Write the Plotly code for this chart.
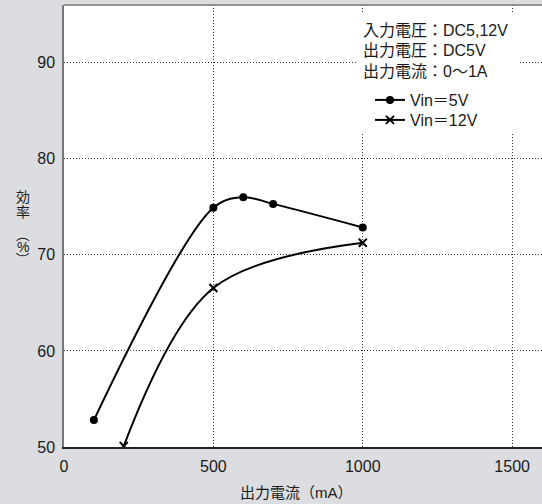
import plotly.graph_objects as go

# Data
current_5v = [100, 500, 600, 700, 1000]
eff_5v = [52.8, 74.9, 76.0, 75.3, 72.85]
current_12v = [200, 500, 1000]
eff_12v = [50.1, 66.55, 71.25]
x_ticks = [0, 500, 1000, 1500]
y_ticks = [50, 60, 70, 80, 90]
name_5v = "Vin＝5V"
name_12v = "Vin＝12V"
info_lines = ["入力電圧：DC5,12V", "出力電圧：DC5V", "出力電流：0〜1A"]

W, H = 542, 504
L, R, T, B = 64, 0, 5, 57
PW = W - L - R
PH = H - T - B


def px(x):
    return (x - L) / PW


def py(y):
    return (H - B - y) / PH


FONT = "Liberation Sans, Noto Sans CJK JP, sans-serif"

fig = go.Figure()
fig.add_trace(go.Scatter(
    x=current_5v, y=eff_5v, name=name_5v, mode="lines+markers", legend="legend",
    line=dict(color="black", width=2, shape="spline", smoothing=1.0),
    marker=dict(symbol="circle", size=8, color="black"),
))
fig.add_trace(go.Scatter(
    x=current_12v, y=eff_12v, name=name_12v, mode="lines+markers", legend="legend2",
    line=dict(color="black", width=2, shape="spline", smoothing=1.0),
    marker=dict(symbol="x-thin", size=8, color="black",
                line=dict(color="black", width=2)),
))

grid = dict(showgrid=True, gridcolor="#333333", gridwidth=1, griddash="1px,2px",
            zeroline=False)

leg_common = dict(xanchor="left", yanchor="top", bgcolor="rgba(0,0,0,0)",
                  font=dict(size=16, color="#1a1a1a"))

fig.update_layout(
    width=W, height=H,
    margin=dict(l=L, r=R, t=T, b=B),
    paper_bgcolor="#dcdde0",
    plot_bgcolor="white",
    font=dict(family=FONT, size=16, color="#1a1a1a"),
    xaxis=dict(range=[0, 1600], tickvals=x_ticks, ticktext=[str(v) for v in x_ticks],
               showline=True, linecolor="#222222", linewidth=1.5,
               ticks="outside", ticklen=4, tickcolor="rgba(0,0,0,0)",
               tickfont=dict(size=16), **grid),
    yaxis=dict(range=[50, 96], tickvals=y_ticks, ticktext=[str(v) for v in y_ticks],
               showline=True, linecolor="#777777", linewidth=1.5,
               ticks="outside", ticklen=4, tickcolor="rgba(0,0,0,0)",
               tickfont=dict(size=16), **grid),
    showlegend=True,
    legend=dict(x=px(370), y=py(83), **leg_common),
    legend2=dict(x=px(370), y=py(103), **leg_common),
)

# white box behind the note and legend; top frame line
fig.add_shape(type="rect", xref="paper", yref="paper",
              x0=px(357), x1=px(520), y0=py(133), y1=py(12),
              fillcolor="white", line=dict(width=0), layer="above")
fig.add_shape(type="line", xref="paper", yref="paper",
              x0=0, x1=1, y0=1, y1=1, line=dict(color="#777777", width=1.5))

for txt, yc in zip(info_lines, [30.5, 51, 71.5]):
    fig.add_annotation(text=txt, xref="paper", yref="paper", x=px(361), y=py(yc),
                       xanchor="left", yanchor="middle", showarrow=False,
                       font=dict(size=16, color="#1a1a1a"))

# x axis title
fig.add_annotation(text="出力電流（mA）", xref="paper", yref="paper", x=px(296), y=py(492),
                   xanchor="center", yanchor="middle", showarrow=False,
                   font=dict(size=15, color="#1a1a1a"))

# y axis title (vertical writing)
ychars = [("効", 196.5, 0), ("率", 212, 0), ("（", 235, 90), ("%", 246.5, 0), ("）", 259, 90)]
for ch, yc, ang in ychars:
    fig.add_annotation(text=ch, xref="paper", yref="paper", x=px(23), y=py(yc),
                       xanchor="center", yanchor="middle", showarrow=False, textangle=ang,
                       font=dict(size=14, color="#1a1a1a"))

fig.write_html("out.html", config={"displayModeBar": False},
               post_script="document.body.style.margin='0';")
